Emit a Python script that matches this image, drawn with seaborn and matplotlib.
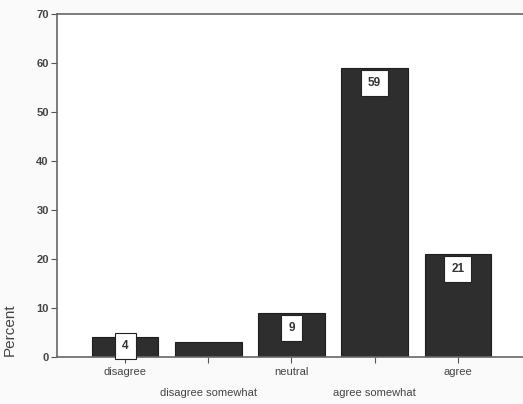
import matplotlib
matplotlib.use("Agg")
import matplotlib.pyplot as plt
import seaborn as sns
import pandas as pd

categories = ["disagree", "disagree somewhat", "neutral", "agree somewhat", "agree"]
percent = [4, 3, 9, 59, 21]
shown_labels = ["4", "", "9", "59", "21"]
y_ticks = [0, 10, 20, 30, 40, 50, 60, 70]

sns.set_theme(style="white")
plt.rcParams["font.family"] = ["Liberation Sans", "DejaVu Sans"]

df = pd.DataFrame({"category": categories, "percent": percent})

fig = plt.figure(figsize=(5.23, 4.04), dpi=100)
fig.patch.set_facecolor("#fafafa")
ax = fig.add_axes([57 / 523, 47 / 404, (526 - 57) / 523, (357 - 14) / 404])
ax.set_facecolor("white")

sns.barplot(data=df, x="category", y="percent", color="#2e2e2e",
            width=0.8, edgecolor="#1e1e1e", linewidth=0.8, saturation=1, ax=ax)

ax.set_xlim(-0.82, 4.82)
ax.set_ylim(0, 70)
ax.set_yticks(y_ticks)
ax.set_yticklabels([str(t) for t in y_ticks], fontsize=8, fontweight="bold", color="#444444")

# staggered category labels
ax.set_xticks(range(len(categories)))
ax.set_xticklabels([])
for i, name in enumerate(categories):
    y = -0.028 if i % 2 == 0 else -0.09
    ax.text(i, y, name, transform=ax.get_xaxis_transform(), ha="center", va="top",
            fontsize=8, color="#444444")

ax.tick_params(axis="y", direction="out", length=4, width=0.8, color="#555555", left=True, pad=2)
ax.tick_params(axis="x", direction="out", length=4, width=0.8, color="#555555", bottom=True)

ax.set_xlabel("")
ax.set_ylabel("Percent", fontsize=11, color="#444444")
ax.yaxis.set_label_coords(-0.085, 0.08)

for side in ["left", "bottom", "top"]:
    ax.spines[side].set_color("#666666")
    ax.spines[side].set_linewidth(1.2)
ax.spines["right"].set_visible(False)

# value boxes just under each bar top, kept above the baseline for short bars
units_per_px = 70 / (357 - 14)
for i, (v, lab) in enumerate(zip(percent, shown_labels)):
    if not lab:
        continue
    yc = max(v - 15 * units_per_px, 11 * units_per_px)
    ax.text(i, yc, lab, ha="center", va="center", fontsize=8.5, fontweight="bold",
            color="#333333",
            bbox=dict(boxstyle="square,pad=0.6", fc="white", ec="#222222", lw=0.8))

fig.savefig("out.png", dpi=100, facecolor=fig.get_facecolor())
